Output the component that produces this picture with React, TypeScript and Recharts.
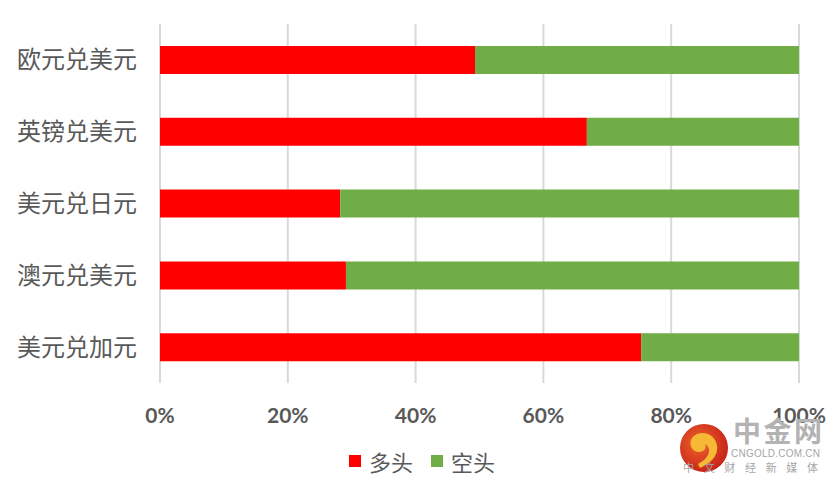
import React from 'react';
import { BarChart, Bar, XAxis, YAxis, CartesianGrid, Legend } from 'recharts';

const categories = ['欧元兑美元', '英镑兑美元', '美元兑日元', '澳元兑美元', '美元兑加元'];
const longShare = [49.3, 66.8, 28.2, 29.1, 75.3];
const shortShare = [50.7, 33.2, 71.8, 70.9, 24.7];
const xTicks = [0, 20, 40, 60, 80, 100];

const data = categories.map((name, i) => ({
    name,
    long: longShare[i],
    short: shortShare[i],
}));

const textColor = '#595959';
const cjkFont = '"Noto Sans CJK SC", sans-serif';

const LegendContent = () => (
    <div style={{ display: 'flex', alignItems: 'center', paddingLeft: 349, fontFamily: cjkFont, fontSize: 22, color: textColor, height: 30 }}>
        <span style={{ width: 12, height: 12, background: '#FF0000', display: 'inline-block', marginRight: 8 }} />
        <span style={{ marginRight: 18 }}>多头</span>
        <span style={{ width: 12, height: 12, background: '#70AD47', display: 'inline-block', marginRight: 8 }} />
        <span>空头</span>
    </div>
);

// watermark in the lower right corner
const Watermark = () => (
    <svg width={837} height={483} style={{ position: 'absolute', left: 0, top: 0, pointerEvents: 'none' }}>
        <defs>
            <radialGradient id="wm" cx="40%" cy="40%" r="60%">
                <stop offset="0%" stopColor="#f0642a" />
                <stop offset="100%" stopColor="#c8261a" />
            </radialGradient>
        </defs>
        <circle cx={704} cy={448} r={24} fill="url(#wm)" />
        <path d="M700 468 C714 462 720 452 716 442 C712 432 698 430 692 438 C688 444 692 452 699 452 C704 452 707 448 705 444 C712 448 710 458 698 464 Z" fill="#f6b935" />
        <text x={733} y={442} fontFamily={cjkFont} fontWeight={700} fontSize={28} fill="#b3b3b3" textLength={89} lengthAdjust="spacing">中金网</text>
        <text x={731} y={457} fontFamily="'Liberation Sans', sans-serif" fontSize={10} fill="#a6a6a6" textLength={89} lengthAdjust="spacing">CNGOLD.COM.CN</text>
        <text x={683} y={472} fontFamily={cjkFont} fontSize={11} fill="#a6a6a6" textLength={135} lengthAdjust="spacing">中文财经新媒体</text>
    </svg>
);

export default function App() {
    return (
        <div style={{ position: 'absolute', left: 0, top: 0, width: 837, height: 483, background: '#fff' }}>
            <BarChart
                width={837}
                height={483}
                data={data}
                layout="vertical"
                margin={{ top: 24, right: 38, left: 0, bottom: 7 }}
            >
                <CartesianGrid horizontal={false} stroke="#D9D9D9" strokeWidth={2} />
                <XAxis
                    type="number"
                    domain={[0, 100]}
                    ticks={xTicks}
                    tickFormatter={(v: number) => `${v}%`}
                    axisLine={false}
                    tickLine={false}
                    tickSize={0}
                    tickMargin={25}
                    height={63}
                    interval={0}
                    tick={{ fill: textColor, fontSize: 21, fontWeight: 700, fontFamily: 'Lato, sans-serif' }}
                />
                <YAxis
                    type="category"
                    dataKey="name"
                    width={160}
                    axisLine={false}
                    tickLine={false}
                    tickSize={0}
                    tickMargin={23}
                    tick={{ fill: textColor, fontSize: 24, fontFamily: cjkFont }}
                />
                <Legend verticalAlign="bottom" height={30} wrapperStyle={{ left: 0, width: 837 }} content={<LegendContent />} />
                <Bar dataKey="long" name="多头" stackId="a" fill="#FF0000" barSize={28} isAnimationActive={false} />
                <Bar dataKey="short" name="空头" stackId="a" fill="#70AD47" barSize={28} isAnimationActive={false} />
            </BarChart>
            <Watermark />
        </div>
    );
}
